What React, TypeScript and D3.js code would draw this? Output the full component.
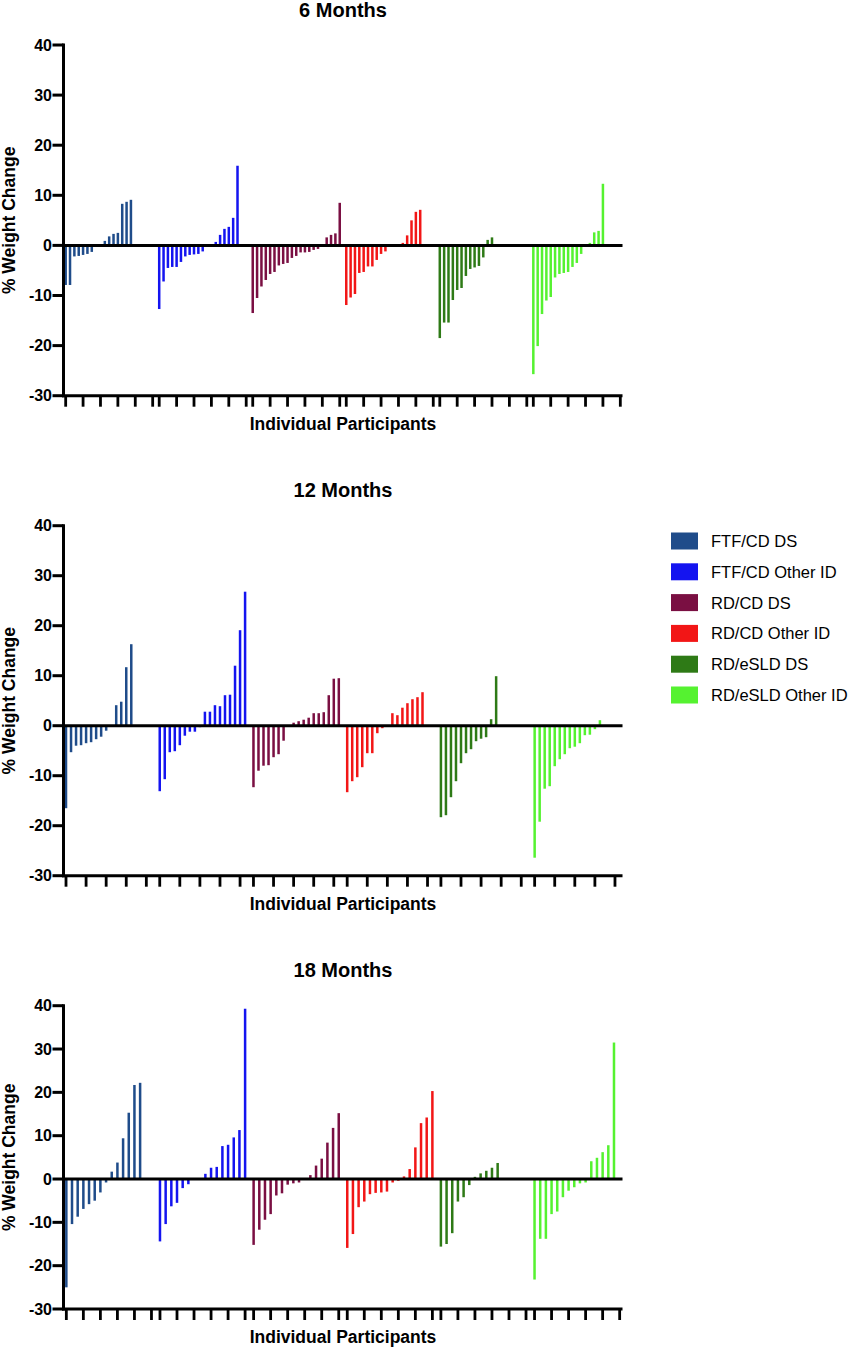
import React from 'react';
import * as d3 from 'd3';

// ---------- categories ----------
const groups = ['FTF/CD DS', 'FTF/CD Other ID', 'RD/CD DS', 'RD/CD Other ID', 'RD/eSLD DS', 'RD/eSLD Other ID'];
const groupColors = ['#1F4C8A', '#1414F0', '#7A0F42', '#F21616', '#2E7A16', '#55F230'];
const yTicks = [-30, -20, -10, 0, 10, 20, 30, 40];
const panelTitles = ['6 Months', '12 Months', '18 Months'];

// ---------- 6 months (% weight change per participant) ----------
const m6FtfDs = [-7.9, -7.9, -2.2, -2.1, -1.9, -1.7, -1.3, -0.2, 0, 0.9, 1.8, 2.3, 2.5, 8.3, 8.7, 9.1];
const m6FtfOther = [-12.7, -7.2, -4.5, -4.3, -4.3, -3.3, -2.2, -1.9, -1.8, -1.7, -1.2, 0, 0, 0.7, 2.1, 3.3, 3.7, 5.5, 15.9];
const m6RdCdDs = [-13.5, -10.5, -8.2, -6.9, -5.7, -5.3, -4.0, -3.7, -3.5, -2.5, -2.1, -1.4, -1.4, -1.3, -0.9, -0.7, -0.3, 1.6, 2.1, 2.4, 8.5];
const m6RdCdOther = [-11.9, -10.4, -9.7, -5.5, -5.3, -4.2, -4.2, -2.9, -1.7, -1.2, 0, 0, 0, 0.5, 2.0, 5.0, 6.7, 7.1];
const m6RdEsDs = [-18.5, -15.4, -15.4, -10.9, -8.9, -8.5, -6.1, -4.7, -4.4, -4.1, -2.4, 1.1, 1.6];
const m6RdEsOther = [-25.7, -20.1, -13.7, -11.0, -10.3, -6.4, -5.7, -5.5, -5.3, -4.3, -3.5, -1.7, 0, 0.5, 2.6, 2.9, 12.3];

// ---------- 12 months ----------
const m12FtfDs = [-16.5, -5.3, -4.0, -3.9, -3.5, -3.3, -2.7, -2.2, -1.0, 0, 4.1, 4.8, 11.7, 16.3];
const m12FtfOther = [-13.1, -10.7, -5.3, -5.1, -3.9, -2.0, -1.2, -1.2, -0.3, 2.8, 2.8, 4.1, 3.9, 6.1, 6.2, 12.0, 19.1, 26.8];
const m12RdCdDs = [-12.3, -9.0, -8.0, -7.9, -6.3, -5.7, -3.0, 0, 0.6, 0.9, 1.2, 1.6, 2.5, 2.5, 2.7, 6.1, 9.4, 9.5];
const m12RdCdOther = [-13.3, -11.1, -10.3, -8.3, -5.5, -5.5, -1.5, -0.5, 0, 2.5, 2.1, 3.6, 4.5, 5.3, 5.7, 6.7];
const m12RdEsDs = [-18.3, -17.9, -14.3, -11.1, -7.5, -5.5, -4.7, -3.1, -2.6, -2.3, 1.3, 9.9];
const m12RdEsOther = [-26.4, -19.2, -12.6, -12.1, -8.1, -6.7, -5.7, -4.5, -4.2, -3.5, -1.9, -1.8, -0.7, 1.1];

// ---------- 18 months ----------
const m18FtfDs = [-25.0, -10.4, -8.7, -6.9, -5.8, -5.0, -3.1, -0.8, 1.7, 3.8, 9.4, 15.3, 21.7, 22.2];
const m18FtfOther = [-14.4, -10.4, -6.3, -5.5, -2.1, -1.2, 0, 0, 1.2, 2.6, 2.8, 7.6, 7.9, 9.6, 11.3, 39.3];
const m18RdCdDs = [-15.2, -11.7, -9.4, -8.1, -3.8, -3.3, -1.3, -1.0, -0.8, 0, 0.9, 3.1, 4.7, 8.4, 11.8, 15.2];
const m18RdCdOther = [-15.9, -12.7, -6.5, -5.2, -3.5, -3.2, -3.1, -2.9, -0.8, -0.4, 0.6, 2.3, 7.3, 12.9, 14.2, 20.3];
const m18RdEsDs = [-15.6, -15.0, -12.5, -5.2, -4.2, -1.4, 0.5, 1.3, 1.9, 2.6, 3.7];
const m18RdEsOther = [-23.2, -13.8, -13.8, -8.1, -7.5, -4.2, -2.7, -1.9, -1.0, -0.8, 4.1, 4.9, 6.2, 7.8, 31.5];

const panelData = [
  [m6FtfDs, m6FtfOther, m6RdCdDs, m6RdCdOther, m6RdEsDs, m6RdEsOther],
  [m12FtfDs, m12FtfOther, m12RdCdDs, m12RdCdOther, m12RdEsDs, m12RdEsOther],
  [m18FtfDs, m18FtfOther, m18RdCdDs, m18RdCdOther, m18RdEsDs, m18RdEsOther],
];

// ---------- layout (positions / styles) ----------
const W = 856;
const H = 1350;
const X0 = 63.5;
const X1 = 622.5;
const FONT = '"Liberation Sans", Arial, Helvetica, sans-serif';
const panelLayout = [
  { top: 45, bottom: 395.7, gap: 0.5, tickEvery: 4, titleY: 17 },
  { top: 525.7, bottom: 875.7, gap: 0.67, tickEvery: 4, titleY: 496.5 },
  { top: 1005.7, bottom: 1309, gap: 0.5, tickEvery: 3, titleY: 976.5 },
];
const BAR_W = 2.5;
const AXIS_W = 3;

function Panel({ idx }: { idx: number }) {
  const lay = panelLayout[idx];
  const data = panelData[idx];
  const N = d3.max(data, (d) => d.length) as number;
  const y = d3.scaleLinear().domain([-30, 40]).range([lay.bottom, lay.top]);
  const gx = d3
    .scaleBand<string>()
    .domain(groups)
    .range([X0, X1])
    .paddingInner(lay.gap / (N + lay.gap))
    .paddingOuter(0);
  const inner = d3.scaleBand<number>().domain(d3.range(N)).range([0, gx.bandwidth()]);
  const s = inner.bandwidth();
  const cx = (g: string, k: number) => (gx(g) as number) + (inner(k) as number) + s / 2;
  const y0 = y(0);
  const tickKs = d3.range(0, N, lay.tickEvery);
  const midY = (lay.top + lay.bottom) / 2;

  return (
    <g>
      <text x={343} y={lay.titleY} textAnchor="middle" fontFamily={FONT} fontWeight="bold" fontSize={20}>
        {panelTitles[idx]}
      </text>
      {/* bars */}
      {groups.map((g, gi) =>
        data[gi].map((v, k) => (
          <rect
            key={`${gi}-${k}`}
            x={cx(g, k) - BAR_W / 2}
            y={Math.min(y(v), y0)}
            width={BAR_W}
            height={Math.abs(y(v) - y0)}
            fill={groupColors[gi]}
          />
        ))
      )}
      {/* zero line */}
      <line x1={X0} x2={X1} y1={y0} y2={y0} stroke="#000" strokeWidth={AXIS_W} />
      {/* y axis */}
      <line x1={X0} x2={X0} y1={lay.top - 1.5} y2={lay.bottom + 1.5} stroke="#000" strokeWidth={AXIS_W} />
      {yTicks.map((t) => (
        <g key={t}>
          <line x1={X0 - 11} x2={X0} y1={y(t)} y2={y(t)} stroke="#000" strokeWidth={AXIS_W} />
          <text
            x={52}
            y={y(t)}
            dy="0.36em"
            textAnchor="end"
            fontFamily={FONT}
            fontWeight="bold"
            fontSize={16}
          >
            {t}
          </text>
        </g>
      ))}
      {/* x axis */}
      <line x1={X0 - 1.5} x2={X1} y1={lay.bottom} y2={lay.bottom} stroke="#000" strokeWidth={AXIS_W} />
      {groups.map((g) =>
        tickKs.map((k) => (
          <line
            key={`${g}-t${k}`}
            x1={cx(g, k)}
            x2={cx(g, k)}
            y1={lay.bottom}
            y2={lay.bottom + 11}
            stroke="#000"
            strokeWidth={2.8}
          />
        ))
      )}
      <text x={343} y={lay.bottom + 34} textAnchor="middle" fontFamily={FONT} fontWeight="bold" fontSize={17.5}>
        Individual Participants
      </text>
      <text
        transform={`translate(15,${midY}) rotate(-90)`}
        textAnchor="middle"
        fontFamily={FONT}
        fontWeight="bold"
        fontSize={17.5}
      >
        % Weight Change
      </text>
    </g>
  );
}

function Legend() {
  const ly = d3.scaleLinear().domain([0, groups.length - 1]).range([541, 695]);
  return (
    <g>
      {groups.map((g, i) => (
        <g key={g}>
          <rect x={671} y={ly(i) - 8.5} width={27} height={17} fill={groupColors[i]} />
          <text x={711} y={ly(i) + 6} fontFamily={FONT} fontSize={16.5} fill="#000">
            {g}
          </text>
        </g>
      ))}
    </g>
  );
}

export default function App() {
  return (
    <svg
      width={W}
      height={H}
      viewBox={`0 0 ${W} ${H}`}
      style={{ position: 'absolute', left: 0, top: 0, background: '#fff' }}
    >
      <rect x={0} y={0} width={W} height={H} fill="#fff" />
      {[0, 1, 2].map((i) => (
        <Panel key={i} idx={i} />
      ))}
      <Legend />
    </svg>
  );
}
